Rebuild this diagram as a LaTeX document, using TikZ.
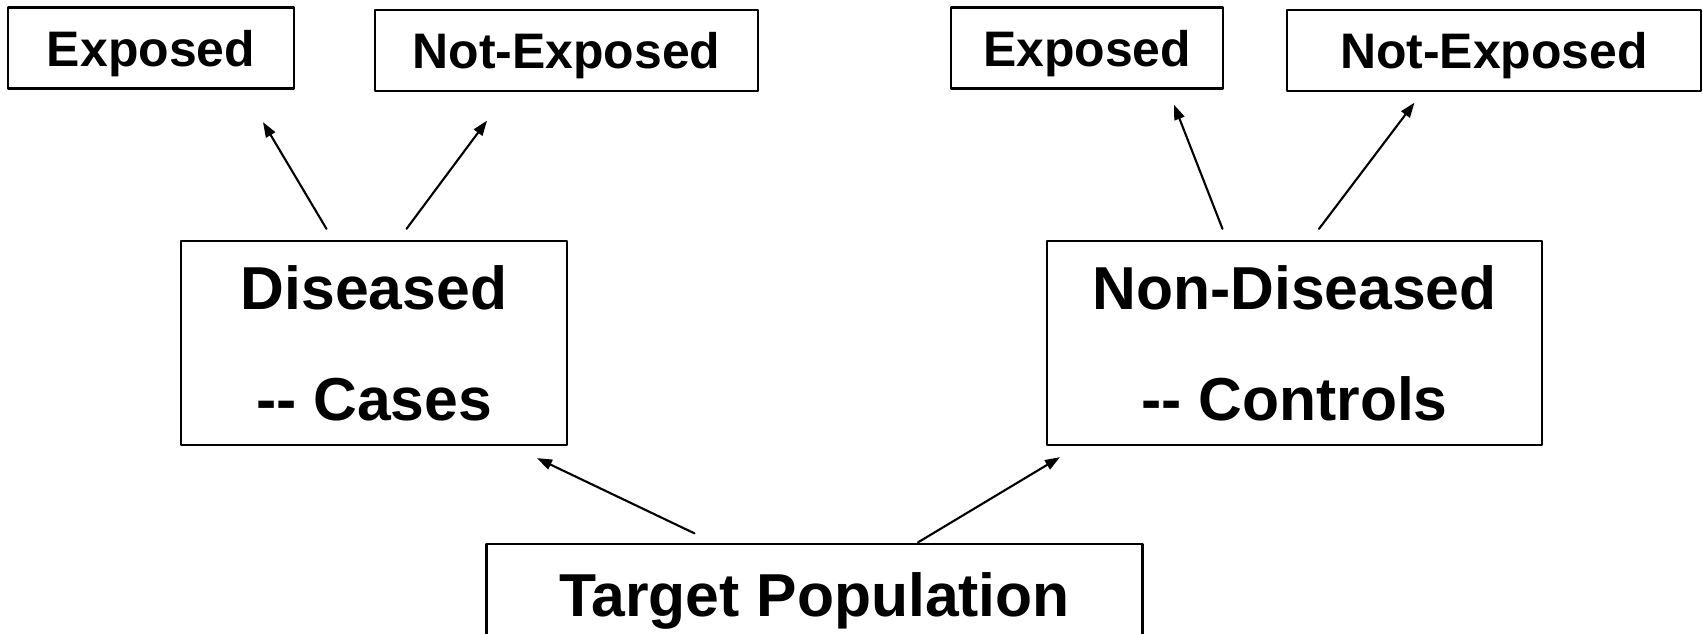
\documentclass[tikz,border=0pt]{standalone}
\usepackage{fontspec}
\setmainfont{Liberation Sans}
\usetikzlibrary{arrows.meta,calc}

\begin{document}
\begin{tikzpicture}[line cap=round,line join=round,x=1cm,y=1cm,
    box/.style={draw,line width=1.3pt,inner sep=0pt,align=center,font=\bfseries},
    small/.style={box,minimum height=1.62cm,text depth=0pt,font=\bfseries\fontsize{28.4}{34}\selectfont},
    big/.style={box,minimum height=4.08cm,font=\bfseries\fontsize{34.5}{63.2}\selectfont},
    arr/.style={line width=1.2pt,-{Triangle[length=0.3cm,width=0.21cm]}}]
                \useasboundingbox (0,0) rectangle (34.06,12.66);
                \clip (0,0) rectangle (34.06,12.66);
                % exposure boxes
                \node[small,minimum width=5.73cm] (expA) at (3.02,11.70) {Exposed};
                \node[small,minimum width=7.67cm] (notA) at (11.33,11.65) {Not-Exposed};
                \node[small,minimum width=5.44cm] (expB) at (21.74,11.70) {Exposed};
                \node[small,minimum width=8.28cm] (notB) at (29.88,11.65) {Not-Exposed};
                % case / control boxes
                \node[big,minimum width=7.72cm] (cas) at (7.48,5.80) {Diseased\\-{}- Cases};
                \node[big,minimum width=9.90cm] (ctl) at (25.89,5.80) {Non-Diseased\\-{}- Controls};
                \node[big,minimum width=13.12cm,minimum height=2.04cm,text depth=0pt] (pop) at (16.29,0.76) {Target Population};
                % arrows
                \draw[arr] ($(pop.north)+(-2.40,0.19)$) -- ($(cas.south)+(3.26,-0.24)$);
                \draw[arr] ($(pop.north)+(2.07,0.01)$) -- ($(ctl.south)+(-4.69,-0.22)$);
                \draw[arr] ($(cas.north)+(-0.95,0.22)$) -- ($(expA.south)+(2.24,-0.65)$);
                \draw[arr] ($(cas.north)+(0.65,0.22)$) -- ($(notA.south)+(-1.59,-0.57)$);
                \draw[arr] ($(ctl.north)+(-1.44,0.22)$) -- ($(expB.south)+(1.74,-0.30)$);
                \draw[arr] ($(ctl.north)+(0.49,0.22)$) -- ($(notB.south)+(-1.59,-0.21)$);
\end{tikzpicture}
\end{document}
